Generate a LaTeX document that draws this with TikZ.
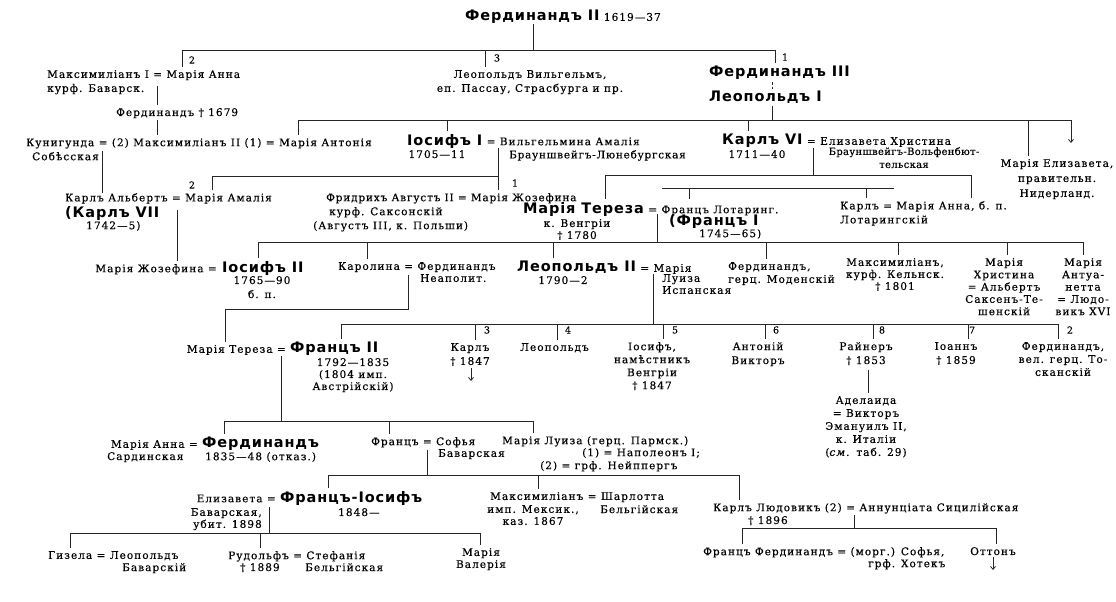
\documentclass[tikz,border=0pt]{standalone}
\usepackage{fontspec}
\setmainfont{DejaVu Serif}[LetterSpace=10,FakeBold=0.4]
\newfontfamily\namefont{DejaVu Sans Bold}[LetterSpace=6]
\usetikzlibrary{arrows.meta,positioning}

\tikzset{
  tx/.style={inner sep=0pt, font=\fontsize{10.5}{13}\selectfont, align=left},
  txl/.style={tx, anchor=north west},
  txc/.style={tx, align=center, anchor=north},
  nm/.style={inner sep=0pt, font=\namefont\fontsize{14.5}{16}\selectfont, anchor=north west},
  num/.style={inner sep=0pt, font=\fontsize{9.5}{10}\selectfont},
  link/.style={line width=0.8pt, draw=black!85},
  tick/.style={link, shorten >=3pt},
  arr/.style={link, -{Straight Barb[length=3pt,width=5pt]}},
}

\begin{document}
\begin{tikzpicture}[x=1pt,y=-1pt]
\useasboundingbox (0,0) rectangle (1116,602);

% --- Фердинандъ II и его дѣти
\node[nm] (fer2) at (465,10) {Фердинандъ II};
\node[tx,anchor=base west] (fer2y) at ([xshift=4pt]fer2.base east) {1619—37};
\node[txl,font=\fontsize{10.5}{14}\selectfont] (maxI) at (47,70) {Максимиліанъ I = Марія Анна\\курф. Баварск.};
\node[txc,font=\fontsize{10.5}{14}\selectfont] (leoW) at (530,70) {Леопольдъ Вильгельмъ,\\еп. Пассау, Страсбурга и пр.};
\node[nm] (fer3) at (709,66) {Фердинандъ III};
\node[nm] (leo1) at (709,91) {Леопольдъ I};
\node[num] (n0a) at (192,60) {2};
\node[num] (n0b) at (497,58) {3};
\node[num] (n0c) at (785,57) {1};

\coordinate (g0) at (533,50);
\coordinate (c2) at (182,50);
\coordinate (c3) at (485,50);
\coordinate (c1) at (775,50);
\draw[link] (g0 |- fer2.south) -- (g0);
\draw[link] (c2) -- (c1);
\draw[tick] (c2) -- (c2 |- maxI.north);
\draw[tick] (c3) -- (c3 |- leoW.north);
\draw[tick] (c1) -- (c1 |- fer3.north);

% --- Баварская линія
\node[txl] (ferB) at (116,108) {Фердинандъ † 1679};
\node[txl,font=\fontsize{10.5}{14}\selectfont] (kun) at (26,138) {Кунигунда = (2) Максимиліанъ II (1) = Марія Антонія\\\hspace*{6pt}Собѣсская};
\coordinate (e1) at (157,86);
\coordinate (e2) at (102,151);
\draw[tick] (e1) -- (e1 |- ferB.north);
\draw[tick] ([yshift=-2pt]e1 |- ferB.south) -- (e1 |- kun.north);

% --- дѣти Леопольда I
\node[nm] (jos1) at (407,134) {Іосифъ I};
\node[tx,anchor=base west] (jos1w) at ([xshift=4pt]jos1.base east) {= Вильгельмина Амалія};
\node[txc] (jos1y) at (437,150) {1705—11};
\node[txl] (jos1b) at (509,150) {\addfontfeature{LetterSpace=7}Брауншвейгъ-Люнебургская};
\node[nm] (karl6) at (722,134) {Карлъ VI};
\node[tx,anchor=base west] (karl6w) at ([xshift=4pt]karl6.base east) {= Елизавета Христина};
\node[txc,font=\fontsize{10}{13}\selectfont] (karl6b) at (904,147) {\addfontfeature{LetterSpace=3}Брауншвейгъ-Вольфенбют-\\\addfontfeature{LetterSpace=3}тельская};
\node[txc] (karl6y) at (757,150) {1711—40};
\node[txc,font=\fontsize{10.5}{15}\selectfont] (mel) at (1057,159) {Марія Елизавета,\\правительн.\\Нидерланд.};

\coordinate (d0) at (772,120);
\coordinate (d1) at (298,120);
\coordinate (d2) at (447,120);
\coordinate (d3) at (748,120);
\coordinate (d4) at (1028,120);
\coordinate (d5) at (1071,120);
\coordinate (d5e) at (1071,143);
\draw[link,densely dashed,shorten <=2pt,shorten >=2pt] (d0 |- fer3.south) -- (d0 |- leo1.north);
\draw[link] ([yshift=-2pt]d0 |- leo1.south) -- (d0);
\draw[link] (d1) -- (d5);
\draw[tick] (d1) -- (d1 |- kun.north);
\draw[tick] (d2) -- (d2 |- jos1.north);
\draw[tick] (d3) -- (d3 |- karl6.north);
\draw[tick] (d4) -- (d4 |- mel.north);
\draw[arr] (d5) -- (d5e);

% --- внуки
\node[txl] (kalb) at (65,193) {Карлъ Альбертъ = Марія Амалія};
\node[nm] (k7) at (65,206) {(Карлъ VII};
\node[txl] (k7y) at (86,221) {1742—5)};
\node[txl,font=\fontsize{10.5}{14}\selectfont] (fa) at (313,193) {\addfontfeature{LetterSpace=8}\hspace*{13pt}Фридрихъ Августъ II = Марія Жозефина\\\hspace*{16pt}курф. Саксонскій\\(Августъ III, к. Польши)};
\node[num] (n1a) at (192,185) {2};
\node[num] (n1b) at (515,183) {1};
\draw[link] (e2) -- (e2 |- kalb.north);

\coordinate (f0) at (498,148);
\coordinate (f2) at (212,176);
\coordinate (f3) at (498,176);
\draw[tick] (f0) -- (f0 |- fa.north);
\draw[link] (f2) -- (f3);
\draw[tick] (f2) -- (f2 |- kalb.north);

% --- Марія Тереза
\node[nm] (mt) at (523,202) {Марія Тереза};
\node[tx,anchor=base west] (mtw) at ([xshift=4pt]mt.base east) {= Францъ Лотаринг.};
\node[txc,font=\fontsize{10.5}{12}\selectfont] (mt2) at (577,219) {к. Венгріи\\† 1780};
\node[nm] (f1) at (669,214) {(Францъ I};
\node[txl] (f1y) at (699,229) {1745—65)};
\node[txl,font=\fontsize{10.5}{14}\selectfont] (kar) at (840,201) {Карлъ = Марія Анна, б. п.\\Лотарингскій};

\coordinate (h0) at (813,148);
\coordinate (h2) at (605,175);
\coordinate (h3) at (971,175);
\coordinate (l1) at (662,188);
\coordinate (l2) at (894,188);
\coordinate (l3) at (689,188);
\coordinate (l4) at (866,188);
\draw[link] (h0) -- (h0 |- h2);
\draw[link] (h2) -- (h3);
\draw[tick] (h2) -- (h2 |- mt.north);
\draw[tick] (h3) -- (h3 |- kar.north);
\draw[link] (l1) -- (l2);
\draw[tick] (l3) -- (l3 |- mt.north);
\draw[tick] (l4) -- (l4 |- kar.north);

% --- дѣти Маріи Терезы
\node[nm] (jos2) at (222,261) {Іосифъ II};
\node[tx,anchor=base east] (mjz) at ([xshift=-5pt]jos2.base west) {Марія Жозефина =};
\node[txc,font=\fontsize{10.5}{14}\selectfont] (jos2y) at (262,276) {1765—90\\б. п.};
\node[txl] (kar2) at (338,262) {Каролина = Фердинандъ};
\node[txl] (kar2b) at (420,274) {Неаполит.};
\node[nm] (leo2) at (517,261) {Леопольдъ II};
\node[tx,anchor=base west] (leo2w) at ([xshift=4pt]leo2.base east) {= Марія};
\node[txc] (leo2y) at (563,276) {1790—2};
\node[txl,font=\fontsize{10.5}{12}\selectfont] (leo2b) at (662,274) {Луиза\\Испанская};
\node[txl] (fmod) at (728,262) {Фердинандъ,\\герц. Моденскій};
\node[txc,font=\fontsize{10.5}{12}\selectfont] (mxk) at (895,258) {Максимиліанъ,\\курф. Кельнск.\\† 1801};
\node[txc,font=\fontsize{10.5}{12.3}\selectfont] (mch) at (1004,258) {Марія\\Христина\\= Альбертъ\\Саксенъ-Те-\\шенскій};
\node[txc,font=\fontsize{10.5}{12.3}\selectfont] (mant) at (1083,258) {Марія\\Антуа-\\нетта\\= Людо-\\викъ XVI};

\coordinate (m0) at (657,214);
\coordinate (m2) at (258,242);
\coordinate (m4) at (367,242);
\coordinate (m5) at (553,242);
\coordinate (m6) at (766,242);
\coordinate (m7) at (898,242);
\coordinate (m8) at (1007,242);
\coordinate (m3) at (1083,242);
\coordinate (k0) at (177,210);
\draw[link] (m0) -- (m0 |- m2);
\draw[link] (m2) -- (m3);
\draw[tick] (m2) -- (m2 |- jos2.north);
\draw[tick] (m4) -- (m4 |- kar2.north);
\draw[tick] (m5) -- (m5 |- leo2.north);
\draw[tick] (m6) -- (m6 |- fmod.north);
\draw[tick] (m7) -- (m7 |- mxk.north);
\draw[tick] (m8) -- (m8 |- mch.north);
\draw[tick] (m3) -- (m3 |- mant.north);
\draw[tick] (k0) -- (k0 |- mjz.north);

% --- дѣти Леопольда II
\node[nm] (f2) at (290,342) {Францъ II};
\node[tx,anchor=base east] (mtn) at ([xshift=-4pt]f2.base west) {Марія Тереза =};
\node[txc,font=\fontsize{10.5}{12}\selectfont] (f2y) at (353,358) {1792—1835\\(1804 имп.\\Австрійскій)};
\node[txc,font=\fontsize{10.5}{14}\selectfont] (karl3) at (470,343) {Карлъ\\† 1847};
\node[txl] (leoB) at (520,343) {Леопольдъ};
\node[txc] (josB) at (652,342) {Іосифъ,\\намѣстникъ\\Венгріи\\† 1847};
\node[txc,font=\fontsize{10.5}{14}\selectfont] (anton) at (758,342) {Антоній\\Викторъ};
\node[txc,font=\fontsize{10.5}{14}\selectfont] (rain) at (866,342) {Райнеръ\\† 1853};
\node[txc,font=\fontsize{10.5}{14}\selectfont] (ioann) at (956,342) {Іоаннъ\\† 1859};
\node[txc] (fertos) at (1063,342) {Фердинандъ,\\вел. герц. То-\\сканскій};
\node[txc] (adel) at (866,396) {Аделаида\\= Викторъ\\Эмануилъ II,\\к. Италіи\\(\textit{см.} таб. 29)};
\node[num] (n2a) at (487,330) {3};
\node[num] (n2b) at (568,330) {4};
\node[num] (n2c) at (675,330) {5};
\node[num] (n2d) at (776,330) {6};
\node[num] (n2e) at (882,330) {8};
\node[num] (n2f) at (972,330) {7};
\node[num] (n2g) at (1070,330) {2};

\coordinate (n0) at (408,275);
\coordinate (n1) at (408,309);
\coordinate (n2) at (225,309);
\draw[link] (n0) -- (n1) -- (n2);
\draw[tick] (n2) -- (n2 |- mtn.north);

\coordinate (p0) at (653,274);
\coordinate (p2) at (341,324);
\coordinate (p4) at (475,324);
\coordinate (p5) at (557,324);
\coordinate (p6) at (663,324);
\coordinate (p7) at (765,324);
\coordinate (p8) at (873,324);
\coordinate (p9) at (968,324);
\coordinate (p3) at (1058,324);
\coordinate (q1) at (471,381);
\coordinate (r0) at (868,370);
\draw[link] (p0) -- (p0 |- p2);
\draw[link] (p2) -- (p3);
\draw[tick] (p2) -- (p2 |- f2.north);
\draw[tick] (p4) -- (p4 |- karl3.north);
\draw[tick] (p5) -- (p5 |- leoB.north);
\draw[tick] (p6) -- (p6 |- josB.north);
\draw[tick] (p7) -- (p7 |- anton.north);
\draw[tick] (p8) -- (p8 |- rain.north);
\draw[tick] (p9) -- (p9 |- ioann.north);
\draw[tick] (p3) -- (p3 |- fertos.north);
\draw[arr] ([yshift=-2pt]q1 |- karl3.south) -- (q1);
\draw[tick] (r0) -- (r0 |- adel.north);

% --- дѣти Франца II
\node[nm] (ferd) at (202,437) {Фердинандъ};
\node[tx,anchor=base east] (manna) at ([xshift=-4pt]ferd.base west) {Марія Анна =};
\node[txl] (sard) at (107,452) {Сардинская};
\node[txl] (ferdy) at (205,452) {1835—48 (отказ.)};
\node[txl] (fk) at (371,437) {Францъ = Софья};
\node[txl] (fk2) at (438,449) {Баварская};
\node[txl] (mlu) at (502,436) {Марія Луиза (герц. Пармск.)};
\node[txl] (mlu2) at (582,448) {(1) = Наполеонъ I;};
\node[txl] (mlu3) at (540,461) {(2) = грф. Нейппергъ};

\coordinate (s0) at (281,356);
\coordinate (s2) at (224,421);
\coordinate (s4) at (389,421);
\coordinate (s3) at (533,421);
\draw[link] (s0) -- (s0 |- s2);
\draw[link] (s2) -- (s3);
\draw[tick] (s2) -- (s2 |- ferd.north);
\draw[tick] (s4) -- (s4 |- fk.north);
\draw[tick] (s3) -- (s3 |- mlu.north);

% --- дѣти эрцг. Франца
\node[nm] (fj) at (280,491) {Францъ-Іосифъ};
\node[tx,anchor=base east] (eliz) at ([xshift=-4pt]fj.base west) {Елизавета =};
\node[tx,anchor=north east,align=right,font=\fontsize{10.5}{12}\selectfont] (eliz2) at (262,508) {Баварская,\\убит. 1898};
\node[txl] (fjy) at (338,508) {1848—};
\node[txl] (mxm) at (490,492) {Максимиліанъ = Шарлотта};
\node[txc,font=\fontsize{10.5}{12}\selectfont] (mxm2) at (533,505) {имп. Мексик.,\\каз. 1867};
\node[txl] (mxm3) at (600,505) {Бельгійская};
\node[txl] (kl) at (713,503) {Карлъ Людовикъ (2) = Аннунціата Сицилійская};
\node[txl] (kly) at (748,516) {† 1896};

\coordinate (u0) at (427,450);
\coordinate (u2) at (328,475);
\coordinate (u4) at (538,475);
\coordinate (u3) at (739,475);
\draw[link] (u0) -- (u0 |- u2);
\draw[link] (u2) -- (u3);
\draw[tick] (u2) -- (u2 |- fj.north);
\draw[tick] (u4) -- (u4 |- mxm.north);
\draw[tick] (u3) -- (u3 |- kl.north);

% --- послѣднее колѣно
\node[txl] (gis) at (48,551) {Гизела = Леопольдъ};
\node[txl] (gis2) at (122,563) {Баварскій};
\node[txl] (rud) at (228,551) {Рудольфъ = Стефанія};
\node[txl] (rud2) at (240,563) {† 1889};
\node[txl] (rud3) at (305,563) {Бельгійская};
\node[txc,font=\fontsize{10.5}{12}\selectfont] (mval) at (481,548) {Марія\\Валерія};
\node[txl] (ffe) at (703,547) {Францъ Фердинандъ = (морг.) Софья,};
\node[txl] (ffe2) at (868,559) {грф. Хотекъ};
\node[txc] (otto) at (993,547) {Оттонъ};

\coordinate (v0) at (269,507);
\coordinate (v2) at (70,533);
\coordinate (v4) at (260,533);
\coordinate (v3) at (480,533);
\coordinate (w0) at (854,515);
\coordinate (w2) at (742,528);
\coordinate (w3) at (996,528);
\coordinate (w4) at (993,570);
\draw[link] (v0) -- (v0 |- v2);
\draw[link] (v2) -- (v3);
\draw[tick] (v2) -- (v2 |- gis.north);
\draw[tick] (v4) -- (v4 |- rud.north);
\draw[tick] (v3) -- (v3 |- mval.north);
\draw[link] (w0) -- (w0 |- w2);
\draw[link] (w2) -- (w3);
\draw[tick] (w2) -- (w2 |- ffe.north);
\draw[tick] (w3) -- (w3 |- otto.north);
\draw[arr] ([yshift=-2pt]w4 |- otto.south) -- (w4);
\end{tikzpicture}
\end{document}
